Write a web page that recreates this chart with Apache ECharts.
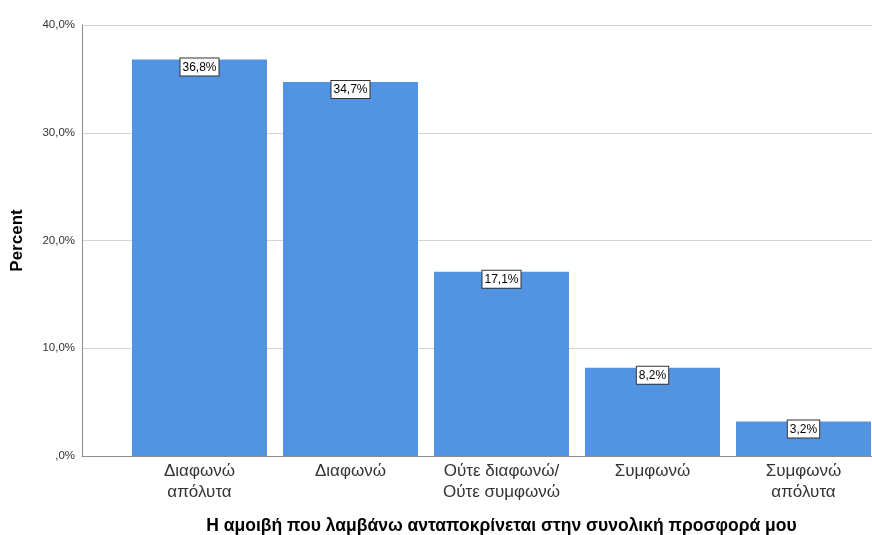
<!DOCTYPE html>
<html>
<head>
<meta charset="utf-8">
<script src="https://cdn.jsdelivr.net/npm/echarts@6/dist/echarts.min.js"></script>
<style>
  html, body { margin: 0; padding: 0; background: #fff; }
  #chart { width: 872px; height: 535px; }
</style>
</head>
<body>
<div id="chart"></div>
<script>
// Response categories and percentages
const categories = ['Διαφωνώ\nαπόλυτα', 'Διαφωνώ', 'Ούτε διαφωνώ/\nΟύτε συμφωνώ', 'Συμφωνώ', 'Συμφωνώ\nαπόλυτα'];
const percents = [36.8, 34.7, 17.1, 8.2, 3.2];
const yTicks = [0, 10, 20, 30, 40];

// "40,0%" style, with the leading zero dropped for 0 (",0%")
const fmt = v => {
  const [i, d] = v.toFixed(1).split('.');
  return (v === 0 ? '' : i) + ',' + d + '%';
};

const chart = echarts.init(document.getElementById('chart'));
const yMin = yTicks[0], yMax = yTicks[yTicks.length - 1];
const font = 'Liberation Sans, Arial, sans-serif';

chart.setOption({
  animation: false,
  grid: [
    { left: 82, width: 790, top: 25, height: 431, outerBoundsMode: 'none', containLabel: false },
    { left: 124, width: 755, top: 25, height: 431, outerBoundsMode: 'none', containLabel: false }
  ],
  xAxis: [
    {
      gridIndex: 0, type: 'category', data: [''],
      axisLine: { lineStyle: { color: '#8c8c8c', width: 1 } },
      axisTick: { show: false }, axisLabel: { show: false }
    },
    {
      gridIndex: 1, type: 'category', data: categories,
      axisLine: { show: false }, axisTick: { show: false },
      name: 'Η αμοιβή που λαμβάνω ανταποκρίνεται στην συνολική προσφορά μου',
      nameLocation: 'middle', nameGap: 61,
      nameTextStyle: { fontFamily: font, fontSize: 17.5, fontWeight: 'bold', color: '#000' },
      axisLabel: { fontFamily: font, fontSize: 17, color: '#333', lineHeight: 21, margin: 5, interval: 0 }
    }
  ],
  yAxis: [
    {
      gridIndex: 0, type: 'value', min: yMin, max: yMax, interval: 10,
      axisLine: { show: true, lineStyle: { color: '#8c8c8c', width: 1 } },
      axisTick: { show: false },
      splitLine: { lineStyle: { color: '#d4d4d4', width: 1 } },
      axisLabel: { fontFamily: font, fontSize: 11.5, color: '#333', margin: 7, padding: [4, 0, 0, 0], formatter: fmt },
      name: 'Percent', nameLocation: 'middle', nameGap: 56,
      nameTextStyle: { fontFamily: font, fontSize: 17, fontWeight: 'bold', color: '#000' }
    },
    {
      gridIndex: 1, type: 'value', min: yMin, max: yMax, interval: 10,
      show: false
    }
  ],
  series: [{
    type: 'bar', xAxisIndex: 1, yAxisIndex: 1,
    data: percents, barWidth: 135,
    itemStyle: { color: '#5294e2' },
    label: {
      show: true, position: 'insideTop', distance: -1,
      formatter: p => p.value.toFixed(1).replace('.', ',') + '%',
      fontFamily: font, fontSize: 12, color: '#000',
      backgroundColor: '#fff', borderColor: '#333', borderWidth: 1,
      padding: [3, 2, 2, 2]
    }
  }]
});
</script>
</body>
</html>
